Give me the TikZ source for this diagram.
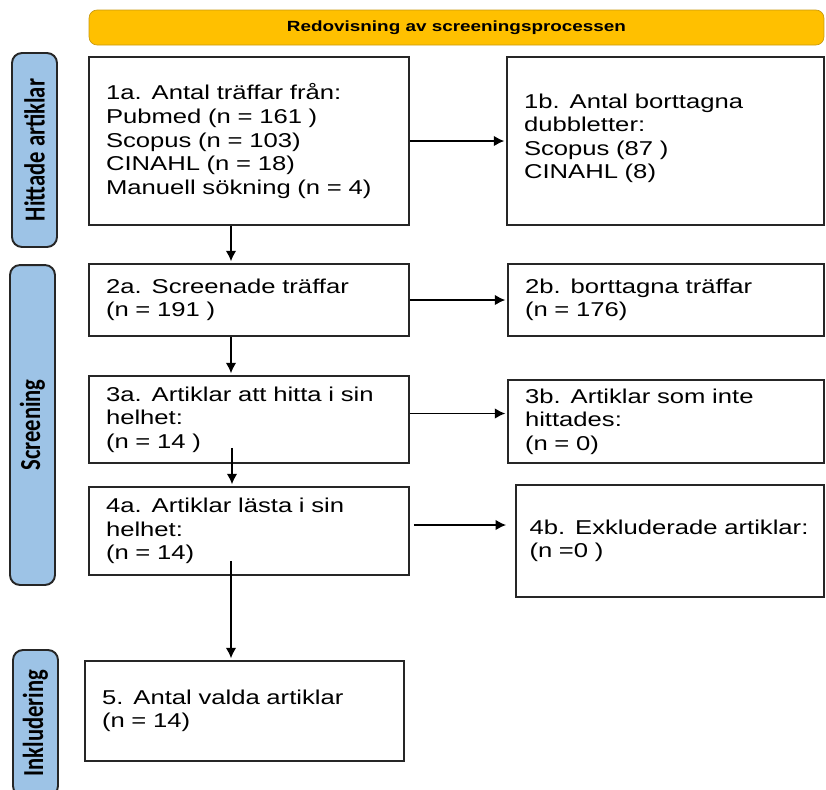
\documentclass[tikz,border=0pt]{standalone}
\usepackage{fontspec}
\setmainfont{Liberation Sans}[FakeStretch=1.28]
\newfontfamily\sidefont{Carlito}[FakeStretch=0.78]
\usetikzlibrary{shapes,arrows.meta}
\definecolor{sideblue}{HTML}{9DC3E6}
\definecolor{bannergold}{HTML}{FFC000}
\definecolor{bannerline}{HTML}{C99A10}

\begin{document}
\begin{tikzpicture}[x=0.02cm,y=-0.02cm]
\tikzset{
block/.style={rectangle,draw=black!85,line width=1.1pt,text width=5.72cm,inner xsep=0.34cm,align=left,font=\fontsize{11.4}{13.4}\selectfont},
phase/.style={rectangle,rounded corners=0.2cm,draw=black!85,fill=sideblue,line width=1.1pt,rotate=90,minimum height=0.9cm,font=\sidefont\bfseries\fontsize{16.5}{18}\selectfont},
banner/.style={rectangle,rounded corners=0.16cm,draw=bannerline,fill=bannergold,minimum width=14.7cm,minimum height=0.7cm,font=\bfseries\fontsize{8.4}{10}\selectfont},
myarrow/.style={->, >={Latex[length=6pt,width=6pt]}, shorten >=1pt, thick},
}
\useasboundingbox (0,0) rectangle (826,789);

\node [banner] (title) at (456.5,27.5) {Redovisning av screeningsprocessen};
\node [phase, minimum width=3.88cm] (hittade) at (34.5,150) {Hittade artiklar};
\node [phase, minimum width=6.4cm] (screening) at (32.5,425) {Screening};
\node [phase, minimum width=2.92cm] (inkludering) at (35.5,723) {Inkludering};

\node [block, minimum height=3.36cm] (hits) at (249,141) {1a. Antal träffar från:\\ Pubmed (n = 161 )\\ Scopus (n = 103)\\ CINAHL (n = 18)\\ Manuell sökning (n = 4)};
\node [block, text width=5.66cm, minimum height=3.36cm] (dupl) at (665.5,141) {1b. Antal borttagna\\ dubbletter:\\ Scopus (87 )\\ CINAHL (8)\\[-8pt]~};
\node [block, minimum height=1.44cm] (screened) at (249,300) {2a. Screenade träffar\\ (n = 191 )};
\node [block, text width=5.64cm, minimum height=1.44cm] (removed) at (666,300) {2b. borttagna träffar\\ (n = 176)};
\node [block, minimum height=1.74cm] (fulltext) at (249,419.5) {3a. Artiklar att hitta i sin\\ helhet:\\ (n = 14 )};
\node [block, text width=5.64cm, minimum height=1.66cm] (notfound) at (666,421.5) {3b. Artiklar som inte\\ hittades:\\ (n = 0)};
\node [block, minimum height=1.76cm] (read) at (249,531) {4a. Artiklar lästa i sin\\ helhet:\\ (n = 14)};
\node [block, text width=5.62cm, inner xsep=0.27cm, minimum height=2.24cm] (excluded) at (670,541) {4b. Exkluderade artiklar:\\ (n =0 )};
\node [block, text width=5.7cm, minimum height=2.0cm] (included) at (244.5,711) {5. Antal valda artiklar\\ (n = 14)};

\draw[myarrow] (hits) -- (dupl);
\draw[myarrow] (screened) -- (removed);
\draw[myarrow] ([yshift=0.12cm]fulltext.east) -- ([yshift=0.12cm]fulltext.east -| notfound.west);
\draw[myarrow, shorten <=0.08cm, shorten >=0.18cm] ([yshift=0.12cm]read.east) -- ([yshift=0.12cm]read.east -| excluded.west);
\draw[myarrow] ([xshift=-0.36cm]hits.south) -- ([xshift=-0.36cm]hits.south |- screened.north);
\draw[myarrow] ([xshift=-0.36cm]screened.south) -- ([xshift=-0.36cm]screened.south |- fulltext.north);
\draw[myarrow] ([xshift=-0.34cm,yshift=0.32cm]fulltext.south) -- ([xshift=-0.34cm]fulltext.south |- read.north);
\draw[myarrow] ([xshift=-0.36cm,yshift=0.3cm]read.south) -- ([xshift=-0.36cm]read.south |- included.north);
\end{tikzpicture}
\end{document}
